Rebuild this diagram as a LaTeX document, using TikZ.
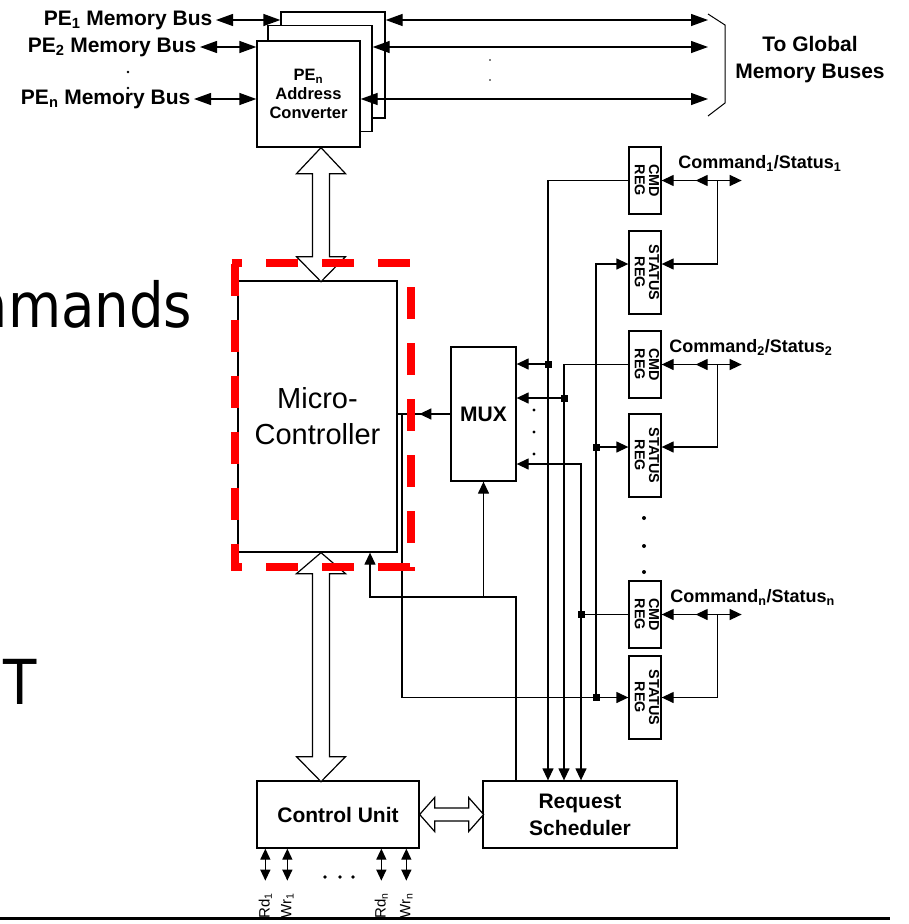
\documentclass[tikz,border=0pt]{standalone}
\usepackage{fontspec}
\setmainfont{Liberation Sans}
\newfontfamily\slidefont[FakeStretch=0.88]{DejaVu Sans}
\usepackage{graphicx}
\usetikzlibrary{arrows.meta,positioning}

\begin{document}
\begin{tikzpicture}[x=1pt,y=-1pt,line width=1.3pt,
  box/.style={draw,fill=white,inner sep=0pt,align=center,
    font=\bfseries\fontsize{21}{27}\selectfont},
  conv/.style={box,minimum width=104pt,minimum height=106pt,
    font=\bfseries\fontsize{16.5}{19}\selectfont},
  cmdreg/.style={draw,inner sep=0pt,minimum width=32pt,minimum height=67pt,
    font=\bfseries\fontsize{14.4}{14}\selectfont},
  statreg/.style={cmdreg,minimum height=83pt},
  buslbl/.style={font=\bfseries\fontsize{21}{24}\selectfont,inner sep=3pt,anchor=east},
  cslbl/.style={font=\bfseries\fontsize{18}{20}\selectfont,inner sep=0pt,anchor=west},
  rwlbl/.style={font=\fontsize{15}{15}\selectfont,rotate=90,anchor=east,inner sep=0pt},
  flow/.style={-{Triangle[length=12pt,width=11pt]}},
  dflow/.style={{Triangle[length=11pt,width=10pt]}-{Triangle[length=11pt,width=10pt]}},
  bus/.style={{Triangle[length=17pt,width=12pt]}-{Triangle[length=17pt,width=12pt]}},
  hollow/.style={draw,fill=white,line width=1.2pt,line join=miter},
  hl/.style={draw=red,line width=7.5pt,dash pattern=on 32pt off 24pt},
  slide/.style={font=\slidefont\fontsize{62}{62}\selectfont,inner sep=0pt}]
\useasboundingbox (0,0) rectangle (909,924);

% slide text behind the figure
\node[slide,anchor=base east] (bgcmd) at (193,327) {mmands};
\node[slide,anchor=base] (bgt) at (20,704) {T};

% address converters
\node[conv] (ac3) at (333,65) {};
\node[conv] (ac2) at (320,78.5) {};
\node[conv,minimum width=103pt] (conv) at (308.5,94) {PE\textsubscript{n}\\Address\\Converter};

\node[buslbl] (pe1) at (216,20) {PE\textsubscript{1} Memory Bus};
\node[buslbl] (pe2) at (200,47) {PE\textsubscript{2} Memory Bus};
\node[buslbl] (pen) at (194,99) {PE\textsubscript{n} Memory Bus};
\draw[bus] (pe1) -- (pe1 -| ac3.west);
\draw[bus] (pe2) -- (pe2 -| conv.west);
\draw[bus] (pen) -- (pen -| conv.west);
\fill (128,72) circle (1.4pt) (128,88) circle (1.4pt);

\coordinate (brk) at (708,14);
\draw[bus] (pe1 -| ac3.east) -- (pe1 -| brk);
\draw[bus] (pe2 -| ac2.east) -- (pe2 -| brk);
\draw[bus] (pen -| conv.east) -- (pen -| brk);
\fill (490,60) circle (0.8pt) (490,80) circle (0.8pt);
\draw[line width=1pt] (brk) -- ++(17,11) -- ++(0,78) -- ++(-17,13);
\node[box,draw=none,fill=none] (glob) at (810,60) {To Global\\Memory Buses};

% main blocks
\node[box,minimum width=159pt,minimum height=271pt,
  font=\fontsize{29}{36}\selectfont] (mc) at (317.5,416.5) {Micro-\\Controller};
\node[box,minimum width=65pt,minimum height=134pt] (mux) at (483.5,414) {MUX};
\node[box,minimum width=162pt,minimum height=67pt] (cu) at (338,814.5) {Control Unit};
\node[box,minimum width=194pt,minimum height=67pt] (rs) at (580,814.5) {Request\\Scheduler};

% wide buses
\coordinate (busx) at (321,0);
\draw[hollow] (conv.south -| busx) -- ++(24.5,26) -- ++(-16,0) -- ++(0,83)
  -- ++(16,0) -- ++(-24.5,25) -- ++(-24.5,-25) -- ++(16,0) -- ++(0,-83)
  -- ++(-16,0) -- cycle;
\draw[hollow] (mc.south -| busx) -- ++(24.5,21) -- ++(-16,0) -- ++(0,183)
  -- ++(16,0) -- ++(-24.5,25) -- ++(-24.5,-25) -- ++(16,0) -- ++(0,-183)
  -- ++(-16,0) -- cycle;
\draw[hollow] (cu.east) -- ++(15,-17) -- ++(0,10.5) -- ++(34,0) -- ++(0,-10.5)
  -- ++(15,17) -- ++(-15,17) -- ++(0,-10.5) -- ++(-34,0) -- ++(0,10.5) -- cycle;

% registers
\node[cmdreg] (c1) at (645,180.5) {\rotatebox{-90}{\begin{tabular}{@{}c@{}}CMD\\REG\end{tabular}}};
\node[statreg] (s1) at (645,272.5) {\rotatebox{-90}{\begin{tabular}{@{}c@{}}STATUS\\REG\end{tabular}}};
\node[cmdreg] (c2) at (645,364.5) {\rotatebox{-90}{\begin{tabular}{@{}c@{}}CMD\\REG\end{tabular}}};
\node[statreg] (s2) at (645,455.5) {\rotatebox{-90}{\begin{tabular}{@{}c@{}}STATUS\\REG\end{tabular}}};
\node[cmdreg] (cn) at (645,614.5) {\rotatebox{-90}{\begin{tabular}{@{}c@{}}CMD\\REG\end{tabular}}};
\node[statreg] (sn) at (645,697.5) {\rotatebox{-90}{\begin{tabular}{@{}c@{}}STATUS\\REG\end{tabular}}};
\fill (644,518) circle (2pt) (644,546) circle (2pt) (644,572) circle (2pt);

\node[cslbl] (cs1) at ([xshift=16pt,yshift=17pt]c1.east) {Command\textsubscript{1}/Status\textsubscript{1}};
\node[cslbl] (cs2) at ([xshift=7pt,yshift=17pt]c2.east) {Command\textsubscript{2}/Status\textsubscript{2}};
\node[cslbl] (csn) at ([xshift=8pt,yshift=17pt]cn.east) {Command\textsubscript{n}/Status\textsubscript{n}};

% command/status ports
\coordinate (j1) at ([xshift=56pt]c1.east);
\coordinate (j2) at ([xshift=56pt]c2.east);
\coordinate (jn) at ([xshift=56pt]cn.east);
\draw[flow] (j1) -- (c1.east);
\draw[flow] (j1) -- ++(-22,0);
\draw[flow] (j1) -- ++(24,0);
\draw[flow] (j1) |- ([yshift=8.5pt]s1.east);
\draw[flow] (j2) -- (c2.east);
\draw[flow] (j2) -- ++(-22,0);
\draw[flow] (j2) -- ++(24,0);
\draw[flow] (j2) |- ([yshift=8.5pt]s2.east);
\draw[flow] (jn) -- (cn.east);
\draw[flow] (jn) -- ++(-22,0);
\draw[flow] (jn) -- ++(24,0);
\draw[flow] (jn) |- (sn.east);

% lines to mux and scheduler
\coordinate (xA) at (548,0);
\coordinate (xB) at (564,0);
\coordinate (xC) at (581,0);
\coordinate (xD) at (596,0);
\coordinate (xM) at (402,0);
\coordinate (m1) at ([yshift=50pt]mux.east);
\coordinate (m2) at ([yshift=16pt]mux.east);
\coordinate (m3) at ([yshift=-50pt]mux.east);
\coordinate (s1in) at ([yshift=8.5pt]s1.west);
\coordinate (s2in) at ([yshift=8.5pt]s2.west);
\coordinate (fb) at (516,597);
\draw[flow] (c1.west) -| (rs.north -| xA);
\draw[flow] (c2.west) -| (rs.north -| xB);
\draw[flow] (cn.west) -| (rs.north -| xC);
\draw[flow] (m1 -| xA) -- (m1);
\draw[flow] (m2 -| xB) -- (m2);
\draw[flow] (cn.west -| xC) |- (m3);
\draw[flow] (sn.west -| xD) |- (s1in);
\draw[flow] (s2in -| xD) -- (s2in);
\draw[flow] (mux.west) -- ++(-31,0);
\draw (mc.east |- mux.west) -- ++(23,0);
\draw[flow] (mux.west -| xM) |- (sn.west);
\draw[flow] (rs.north -| fb) -- (fb) -| ([xshift=52.5pt]mc.south);
\draw[flow] (mux.south |- fb) -- (mux.south);
\fill (m1 -| xA) ++(-3.5,-3.5) rectangle ++(7,7);
\fill (m2 -| xB) ++(-3.5,-3.5) rectangle ++(7,7);
\fill (cn.west -| xC) ++(-3.5,-3.5) rectangle ++(7,7);
\fill (s2in -| xD) ++(-3.5,-3.5) rectangle ++(7,7);
\fill (sn.west -| xD) ++(-3.5,-3.5) rectangle ++(7,7);
\fill (534,410) circle (1.6pt) (534,432) circle (1.6pt) (534,454) circle (1.6pt);

% read / write ports
\draw[dflow] ([xshift=9pt]cu.south west) -- ++(0,32);
\draw[dflow] ([xshift=31pt]cu.south west) -- ++(0,32);
\draw[dflow] ([xshift=125pt]cu.south west) -- ++(0,32);
\draw[dflow] ([xshift=150pt]cu.south west) -- ++(0,32);
\fill (325,877) circle (1.8pt) (340,877) circle (1.8pt) (353,877) circle (1.8pt);
\node[rwlbl] (rd1) at ([xshift=9pt,yshift=-44pt]cu.south west) {Rd\textsubscript{1}};
\node[rwlbl] (wr1) at ([xshift=31pt,yshift=-44pt]cu.south west) {Wr\textsubscript{1}};
\node[rwlbl] (rdn) at ([xshift=125pt,yshift=-44pt]cu.south west) {Rd\textsubscript{n}};
\node[rwlbl] (wrn) at ([xshift=150pt,yshift=-44pt]cu.south west) {Wr\textsubscript{n}};

% highlight round the micro-controller
\draw[hl,dash phase=21.5pt] (231.5,263) -- (411,263);
\draw[hl,dash phase=21.5pt] (231.5,567) -- (411,567);
\draw[hl,dash phase=52pt] (235,259.5) -- (235,570.5);
\draw[hl,dash phase=32pt] (411,263) -- (411,570.5);

\draw[line width=3pt] (0,918) -- (890,918);
\end{tikzpicture}
\end{document}
